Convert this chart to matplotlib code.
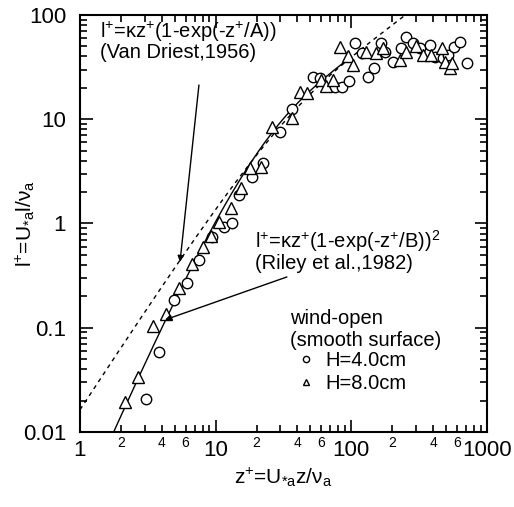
import numpy as np
import matplotlib
matplotlib.use("Agg")
import matplotlib.pyplot as plt
from matplotlib.ticker import FixedLocator, FixedFormatter, NullFormatter

plt.rcParams["font.family"] = ["Liberation Sans", "DejaVu Sans"]
plt.rcParams["mathtext.fontset"] = "custom"
plt.rcParams["mathtext.rm"] = "Liberation Sans"
plt.rcParams["mathtext.it"] = "Liberation Sans"
plt.rcParams["mathtext.bf"] = "Liberation Sans:bold"

# H = 4.0 cm (circles)
z_h4 = [3.05, 3.84, 4.93, 6.11, 7.57, 9.34, 11.5, 13.1, 14.8, 18.4, 22.3,
        29.8, 36.3, 52.3, 58.6, 75.5, 84.8, 96.6, 106, 119, 133, 148,
        166, 176, 203, 233, 255, 285, 318, 377, 412, 475, 516, 575, 630, 708]
l_h4 = [0.0205, 0.058, 0.185, 0.27, 0.445, 0.74, 0.93, 1.02, 1.88, 2.8, 3.8,
        7.6, 12.5, 25.6, 24.7, 20.5, 20.5, 23.4, 53.5, 42.9, 25.6, 30.8,
        53.5, 44.4, 35.6, 48, 61.9, 53.5, 48, 51.6, 39.8, 38.4, 41.4, 49.7, 55.4, 34.4]

# H = 8.0 cm (triangles)
z_h8 = [2.15, 2.69, 3.47, 4.28, 5.37, 6.65, 8.0, 9.2, 10.6, 13.0, 15.5, 17.9,
        21.7, 25.8, 36.3, 41.8, 46.9, 60.2, 65.6, 73.5, 82.4, 95, 103, 129,
        153, 172, 228, 255, 300, 338, 388, 463, 490, 533, 550]
l_h8 = [0.0195, 0.034, 0.104, 0.135, 0.239, 0.41, 0.6, 0.76, 1.04, 1.4, 2.2, 3.4,
        3.5, 8.5, 10.2, 18.4, 17.7, 23.8, 21.0, 23.8, 49.7, 40, 33, 44.4,
        42.9, 48, 37, 44.4, 50, 41.4, 41.4, 48, 35.6, 30.8, 34.4]

kappa = 0.4
A = 24.0
B = 14.0

x_major = [1, 10, 100, 1000]
x_major_labels = ["1", "10", "100", "1000"]
x_minor = [m * d for d in (1, 10, 100) for m in range(2, 10)]
x_minor_labels = [str(m) if m in (2, 4, 6) else "" for d in (1, 10, 100) for m in range(2, 10)]
y_major = [0.01, 0.1, 1, 10, 100]
y_major_labels = ["0.01", "0.1", "1", "10", "100"]

fig = plt.figure(figsize=(5.14, 5.07), dpi=100)
ax = fig.add_axes([0.1556, 0.148, 0.7919, 0.8224])

# theory curves
zv = np.logspace(0, np.log10(300), 300)
ax.plot(zv, kappa * zv * (1 - np.exp(-zv / A)), color="k", lw=1.0,
        linestyle=(0, (3, 3)))
zr = np.logspace(np.log10(1.5), 2, 300)
ax.plot(zr, kappa * zr * (1 - np.exp(-zr / B)) ** 2, color="k", lw=1.0)

h4, = ax.plot(z_h4, l_h4, "o", ms=7.5, mfc="white", mec="k", mew=1.0,
              linestyle="none", label="H=4.0cm")
h8, = ax.plot(z_h8, l_h8, "^", ms=8, mfc="white", mec="k", mew=1.0,
              linestyle="none", label="H=8.0cm")

ax.set_xscale("log")
ax.set_yscale("log")
ax.set_xlim(1, 1000)
ax.set_ylim(0.01, 100)

ax.xaxis.set_major_locator(FixedLocator(x_major))
ax.xaxis.set_major_formatter(FixedFormatter(x_major_labels))
ax.xaxis.set_minor_locator(FixedLocator(x_minor))
ax.xaxis.set_minor_formatter(FixedFormatter(x_minor_labels))
ax.yaxis.set_major_locator(FixedLocator(y_major))
ax.yaxis.set_major_formatter(FixedFormatter(y_major_labels))
ax.yaxis.set_minor_locator(FixedLocator([m * d for d in (0.01, 0.1, 1, 10) for m in range(2, 10)]))
ax.yaxis.set_minor_formatter(NullFormatter())

ax.tick_params(which="both", direction="in", top=True, right=True, width=1.2, color="k")
ax.tick_params(which="major", length=9, labelsize=16)
ax.tick_params(axis="x", which="major", pad=6)
ax.tick_params(axis="y", which="major", pad=10)
ax.tick_params(which="minor", length=5)
ax.tick_params(axis="x", which="minor", labelsize=10, pad=3)
for s in ax.spines.values():
    s.set_linewidth(1.5)

ax.set_xlabel("z$^{+}$=U$_{*a}$z/$\\nu_{a}$", fontsize=15)
ax.set_ylabel("l$^{+}$=U$_{*a}$l/$\\nu_{a}$", fontsize=15)
ax.xaxis.set_label_coords(0.5, -0.08)
ax.yaxis.set_label_coords(-0.106, 0.5)

# annotations
ax.text(0.049, 0.988, "l$^{+}$=κz$^{+}$(1-exp(-z$^{+}$/A))\n(Van Driest,1956)",
        transform=ax.transAxes, fontsize=14.5, ha="left", va="top",
        linespacing=0.95)
ax.text(0.43, 0.49, "l$^{+}$=κz$^{+}$(1-exp(-z$^{+}$/B))$^{2}$\n(Riley et al.,1982)",
        transform=ax.transAxes, fontsize=14.5, ha="left", va="top",
        linespacing=1.0)

arrow = dict(arrowstyle="-|>", color="k", lw=1.0, mutation_scale=9,
             shrinkA=0, shrinkB=0)
ax.annotate("", xy=(5.46, 0.427), xytext=(7.53, 21.3), arrowprops=arrow)
ax.annotate("", xy=(4.23, 0.119), xytext=(33.5, 0.307), arrowprops=arrow)

leg = ax.legend(handles=[h4, h8], title="wind-open\n(smooth surface)",
                loc="upper left", bbox_to_anchor=(0.515, 0.295), frameon=False,
                fontsize=14.5, title_fontsize=14.5, markerscale=0.6,
                handlelength=1.6, handletextpad=0.2, labelspacing=0.18,
                borderpad=0, borderaxespad=0, alignment="left")
leg._legend_box.sep = 1

fig.savefig("out.png", dpi=100)
